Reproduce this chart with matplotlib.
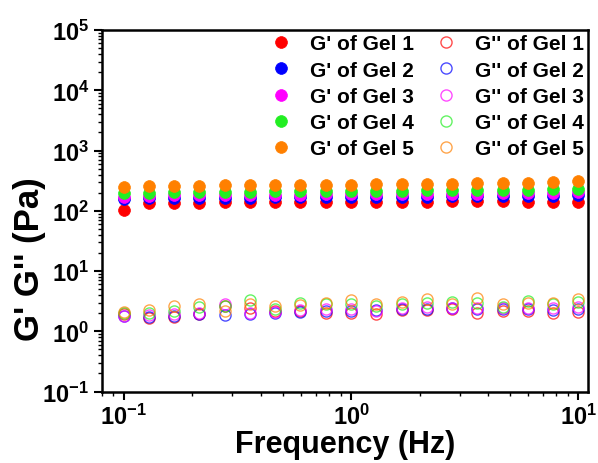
import matplotlib
matplotlib.use("Agg")
import matplotlib.pyplot as plt
from matplotlib.ticker import LogLocator, FuncFormatter, NullFormatter
import numpy as np

plt.rcParams['font.family'] = ['Liberation Sans', 'DejaVu Sans']
plt.rcParams['font.weight'] = 'bold'
plt.rcParams['mathtext.fontset'] = 'custom'
plt.rcParams['mathtext.rm'] = 'Liberation Sans:bold'
plt.rcParams['mathtext.bf'] = 'Liberation Sans:bold'
plt.rcParams['mathtext.it'] = 'Liberation Sans:bold'

# Frequency (Hz), 9 points per decade from 0.1 to 10
freq = [0.1, 0.129, 0.167, 0.215, 0.278, 0.359, 0.464, 0.599, 0.774, 1.0,
        1.29, 1.67, 2.15, 2.78, 3.59, 4.64, 5.99, 7.74, 10.0]

gels = ["Gel 1", "Gel 2", "Gel 3", "Gel 4", "Gel 5"]
colors = ["#FF0000", "#0000FF", "#FF00FF", "#22EE22", "#FF8000"]

# Storage modulus G' (Pa)
g1_storage = [104, 134, 136, 137, 138, 139, 140, 140, 141, 141, 142, 142, 142, 143, 143, 143, 142, 142, 142]
g2_storage = [160, 162, 163, 164, 165, 166, 167, 168, 168, 169, 170, 171, 172, 173, 174, 175, 177, 178, 180]
g3_storage = [170, 178, 180, 182, 183, 184, 185, 186, 187, 188, 189, 190, 191, 192, 193, 195, 197, 200, 208]
g4_storage = [195, 200, 203, 205, 207, 208, 210, 210, 212, 213, 215, 216, 218, 219, 220, 222, 224, 226, 232]
g5_storage = [250, 255, 258, 262, 265, 265, 268, 270, 272, 272, 275, 278, 280, 282, 285, 288, 292, 298, 315]

# Loss modulus G'' (Pa)
g1_loss = [1.96, 1.69, 1.74, 1.96, 2.60, 2.47, 2.18, 2.18, 2.05, 2.05, 1.96, 2.24, 2.24, 2.32, 2.05, 2.18, 2.18, 2.05, 2.13]
g2_loss = [1.81, 1.74, 1.81, 1.92, 1.88, 1.92, 2.05, 2.13, 2.18, 2.18, 2.24, 2.32, 2.32, 2.47, 2.32, 2.32, 2.32, 2.24, 2.32]
g3_loss = [1.81, 1.88, 1.92, 2.05, 2.81, 2.05, 2.13, 2.24, 2.32, 2.32, 2.18, 2.41, 2.54, 2.41, 2.47, 2.41, 2.41, 2.41, 2.54]
g4_loss = [2.05, 2.05, 2.18, 2.54, 2.63, 3.26, 2.32, 2.99, 2.81, 2.88, 2.63, 2.81, 2.99, 3.11, 2.99, 2.54, 3.19, 2.88, 3.11]
g5_loss = [2.13, 2.24, 2.63, 2.88, 2.18, 2.88, 2.63, 2.73, 2.99, 3.26, 2.88, 3.11, 3.40, 2.88, 3.63, 2.81, 2.99, 2.99, 3.40]

storage = [g1_storage, g2_storage, g3_storage, g4_storage, g5_storage]
loss = [g1_loss, g2_loss, g3_loss, g4_loss, g5_loss]

fig = plt.figure(figsize=(5.98, 4.64), dpi=100)
ax = fig.add_axes([0.170, 0.154, 0.813, 0.779])

handles_s = []
handles_l = []
for name, c, s in zip(gels, colors, storage):
    h, = ax.plot(freq, s, 'o', color=c, ms=8.5, mec=c, mew=0.5, label="G' of " + name)
    handles_s.append(h)
for name, c, l in zip(gels, colors, loss):
    h, = ax.plot(freq, l, 'o', mfc='none', mec=c, ms=8, mew=1.0, alpha=0.7, label="G'' of " + name)
    handles_l.append(h)

ax.set_xscale('log')
ax.set_yscale('log')
ax.set_xlim(0.08, 11)
ax.set_ylim(0.1, 1e5)

fmt = FuncFormatter(lambda v, p: r'$\mathbf{10^{%d}}$' % int(round(np.log10(v))))
ax.xaxis.set_major_locator(LogLocator(base=10, numticks=10))
ax.yaxis.set_major_locator(LogLocator(base=10, numticks=10))
ax.xaxis.set_minor_locator(LogLocator(base=10, subs=np.arange(2, 10), numticks=20))
ax.yaxis.set_minor_locator(LogLocator(base=10, subs=np.arange(2, 10), numticks=20))
ax.xaxis.set_major_formatter(fmt)
ax.yaxis.set_major_formatter(fmt)
ax.xaxis.set_minor_formatter(NullFormatter())
ax.yaxis.set_minor_formatter(NullFormatter())

ax.tick_params(which='major', direction='out', length=6, width=1.5, labelsize=17, pad=3)
ax.tick_params(which='minor', direction='out', length=3, width=1.0)
for sp in ax.spines.values():
    sp.set_linewidth(1.8)

ax.set_xlabel('Frequency (Hz)', fontsize=22, fontweight='bold', labelpad=0)
ax.set_ylabel("G' G'' (Pa)", fontsize=25, fontweight='bold')
ax.yaxis.set_label_coords(-0.115, 0.37)

handles = handles_s + handles_l
leg = ax.legend(handles=handles, ncol=2, loc='upper right', frameon=False,
                handlelength=1.0, handletextpad=0.9,
                columnspacing=1.0, labelspacing=0.35, borderpad=0.1,
                borderaxespad=0.1, prop={'weight': 'bold', 'size': 15})

fig.savefig('out.png', dpi=100)
